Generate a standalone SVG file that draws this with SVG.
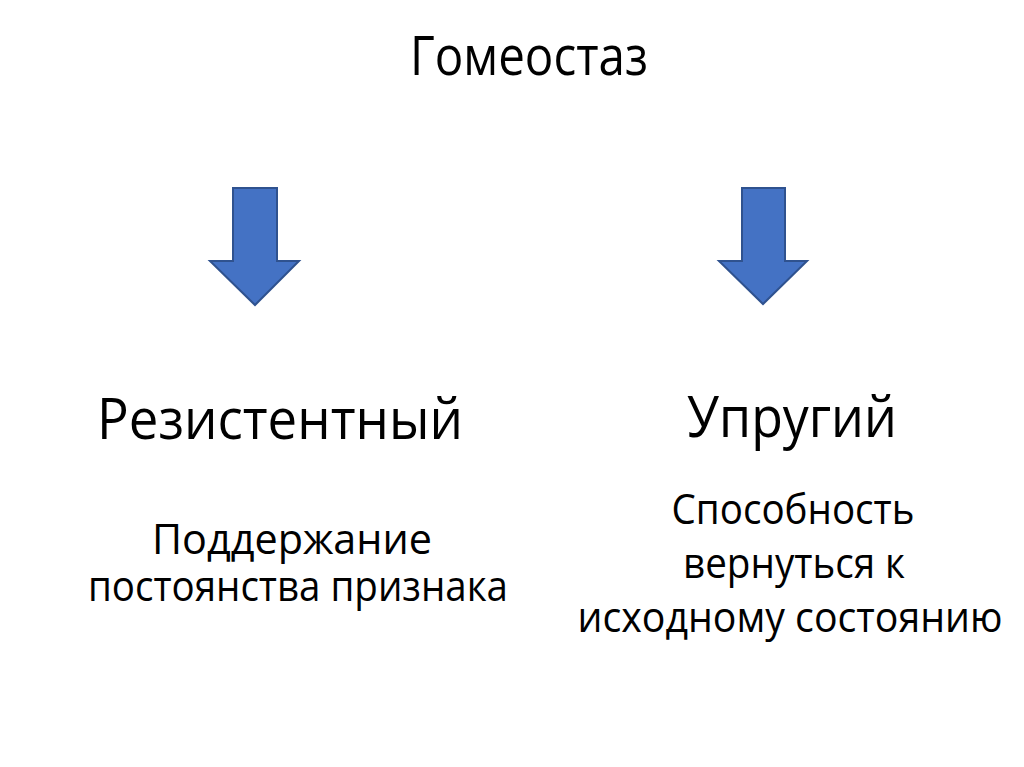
<svg xmlns="http://www.w3.org/2000/svg" width="1024" height="767" viewBox="0 0 1024 767">
<style>
text{font-family:"Open Sans","Noto Sans","DejaVu Sans",sans-serif;fill:#000;text-anchor:middle}
.t{font-size:54px}
.h{font-size:56px}
.b{font-size:42px}
.arrow{fill:#4472C4;stroke:#2F528F;stroke-width:2;stroke-linejoin:miter}
</style>
<rect width="1024" height="767" fill="#fff"/>
<g id="title"><text class="t" x="529" y="75" textLength="238" lengthAdjust="spacingAndGlyphs">Гомеостаз</text></g>
<g id="connectors">
<path class="arrow" d="M233,188 H277 V261 H299 L255,305 L210,261 H233 Z"/>
<path class="arrow" d="M742,188 H785 V261 H807 L763,304 L719,261 H742 Z"/>
</g>
<g id="resistant">
<text class="h" x="280" y="439" textLength="366" lengthAdjust="spacingAndGlyphs">Резистентный</text>
<text class="b" x="292" y="554" textLength="280" lengthAdjust="spacingAndGlyphs">Поддержание</text>
<text class="b" x="298" y="601" textLength="420" lengthAdjust="spacingAndGlyphs">постоянства признака</text>
</g>
<g id="elastic">
<text class="h" x="792" y="437" textLength="210" lengthAdjust="spacingAndGlyphs">Упругий</text>
<text class="b" x="793" y="524" textLength="243" lengthAdjust="spacingAndGlyphs">Способность</text>
<text class="b" x="794" y="578" textLength="222" lengthAdjust="spacingAndGlyphs">вернуться к</text>
<text class="b" x="790" y="632" textLength="425" lengthAdjust="spacingAndGlyphs">исходному состоянию</text>
</g>
</svg>
